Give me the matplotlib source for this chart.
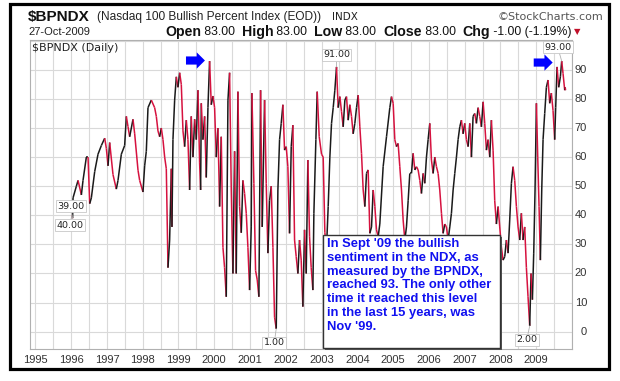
import matplotlib
matplotlib.use("Agg")
import matplotlib.pyplot as plt
import numpy as np
from matplotlib.collections import LineCollection
from matplotlib.patches import Rectangle, FancyArrow
import matplotlib.transforms as mtransforms

# ---------------- data ----------------
years = [
    1996.02, 1996.04, 1996.053, 1996.146, 1996.193, 1996.286, 1996.332, 1996.425, 1996.472, 1996.519,
    1996.565, 1996.658, 1996.751, 1996.845, 1996.938, 1996.984, 1997.031, 1997.077, 1997.170, 1997.263,
    1997.310, 1997.403, 1997.496, 1997.543, 1997.589, 1997.636, 1997.729, 1997.776, 1997.869, 1997.915,
    1998.008, 1998.055, 1998.101, 1998.148, 1998.241, 1998.334, 1998.381, 1998.427, 1998.474, 1998.520,
    1998.567, 1998.614, 1998.660, 1998.707, 1998.753, 1998.800, 1998.818, 1998.846, 1998.893, 1998.940,
    1998.986, 1999.033, 1999.079, 1999.126, 1999.172, 1999.219, 1999.265, 1999.312, 1999.358, 1999.405,
    1999.452, 1999.498, 1999.545, 1999.591, 1999.619, 1999.638, 1999.684, 1999.731, 1999.777, 1999.824,
    1999.870, 1999.917, 1999.964, 2000.010, 2000.057, 2000.103, 2000.150, 2000.196, 2000.243, 2000.289,
    2000.336, 2000.383, 2000.429, 2000.476, 2000.522, 2000.569, 2000.615, 2000.662, 2000.708, 2000.755,
    2000.801, 2000.848, 2000.895, 2000.941, 2000.988, 2001.034, 2001.053, 2001.108, 2001.155, 2001.202,
    2001.248, 2001.295, 2001.341, 2001.407, 2001.453, 2001.500, 2001.546, 2001.593, 2001.640, 2001.686,
    2001.733, 2001.779, 2001.826, 2001.872, 2001.919, 2001.965, 2002.012, 2002.058, 2002.105, 2002.152,
    2002.198, 2002.245, 2002.291, 2002.338, 2002.384, 2002.431, 2002.477, 2002.524, 2002.571, 2002.617,
    2002.664, 2002.710, 2002.757, 2002.785, 2002.841, 2002.878, 2002.934, 2002.999, 2003.045, 2003.092,
    2003.139, 2003.185, 2003.232, 2003.278, 2003.325, 2003.371, 2003.418, 2003.464, 2003.511, 2003.558,
    2003.604, 2003.651, 2003.697, 2003.744, 2003.790, 2003.837, 2003.883, 2003.930, 2003.977, 2004.023,
    2004.070, 2004.116, 2004.163, 2004.209, 2004.256, 2004.302, 2004.349, 2004.396, 2004.442, 2004.489,
    2004.535, 2004.582, 2004.628, 2004.721, 2004.815, 2004.908, 2004.954, 2005.001, 2005.047, 2005.094,
    2005.140, 2005.187, 2005.234, 2005.280, 2005.327, 2005.373, 2005.420, 2005.466, 2005.513, 2005.559,
    2005.606, 2005.653, 2005.699, 2005.746, 2005.792, 2005.839, 2005.885, 2005.932, 2005.978, 2006.025,
    2006.071, 2006.118, 2006.165, 2006.211, 2006.258, 2006.304, 2006.351, 2006.397, 2006.444, 2006.490,
    2006.537, 2006.584, 2006.630, 2006.677, 2006.723, 2006.770, 2006.816, 2006.863, 2006.909, 2006.956,
    2007.002, 2007.049, 2007.096, 2007.142, 2007.189, 2007.235, 2007.282, 2007.328, 2007.375, 2007.421,
    2007.468, 2007.515, 2007.561, 2007.608, 2007.654, 2007.701, 2007.747, 2007.794, 2007.840, 2007.887,
    2007.934, 2007.980, 2008.027, 2008.073, 2008.120, 2008.166, 2008.213, 2008.259, 2008.306, 2008.352,
    2008.399, 2008.446, 2008.492, 2008.539, 2008.585, 2008.632, 2008.678, 2008.725, 2008.771, 2008.818,
    2008.855, 2008.893, 2008.930, 2008.967, 2009.005, 2009.042, 2009.079, 2009.116, 2009.154, 2009.191,
    2009.237, 2009.284, 2009.330, 2009.377, 2009.423, 2009.470, 2009.516, 2009.544, 2009.582, 2009.628,
    2009.675, 2009.712, 2009.749, 2009.796, 2009.810, 2009.820,
]
values = [
    40, 39, 46, 50, 52, 47, 52, 60, 60, 44,
    46, 55, 61, 64, 66.5, 63, 57, 65, 54, 49,
    52, 61, 64, 74, 70.5, 67, 73, 68, 55.5, 52,
    48, 57, 62, 77, 79.6, 77, 74, 69, 67, 70,
    66, 60, 56, 22, 31.5, 56, 36, 66, 79.6, 87.6,
    84, 89, 85, 69, 63.6, 72.7, 66, 48.7, 74, 60,
    73, 66, 83, 58, 48.7, 78.5, 66, 74, 53, 77,
    93, 78, 81, 77, 60, 70, 43, 67, 29, 22,
    12, 79.6, 89, 48.7, 20, 62, 20, 82.5, 43, 34,
    52, 47.5, 40.7, 29, 14.3, 36, 82, 51, 21, 17.8,
    12, 83, 36, 79.6, 51, 27, 45, 50, 29, 5,
    1, 48.7, 66, 71.6, 78, 62.4, 63.6, 56.7, 33.8, 63.6,
    71, 31.5, 25.8, 20, 31.5, 24.6, 8.6, 35, 20, 59,
    32.6, 22, 14.3, 40.7, 66, 82.5, 67, 61, 60, 34,
    29, 43, 60, 71.6, 77, 83, 91, 77, 80.8, 75.6,
    70.4, 79.6, 80.8, 72.7, 78, 74, 68, 71.6, 77, 81.3,
    70.4, 61.3, 48.7, 43, 54.4, 55.6, 33.8, 36, 48.7, 43,
    35, 32.6, 37, 56.7, 67, 77, 80.8, 78.5, 66, 63.6,
    64.7, 56.7, 48.7, 38.4, 31.5, 36, 45, 54.4, 54.4, 61.3,
    55.6, 56.7, 55.6, 52, 47.5, 54.4, 51, 60, 66, 71.6,
    59, 54.4, 60, 56.7, 54.4, 48.7, 40.7, 33.8, 37, 36,
    31.5, 36, 40.7, 48.7, 54.4, 60, 66, 70.4, 72.7, 68,
    71.6, 66, 63.6, 71.6, 60, 74, 75, 71.6, 77, 74,
    70.4, 79, 71.6, 62.4, 66, 60, 72.7, 62.4, 45, 37,
    43, 36, 29, 24.6, 25.8, 31.5, 27, 38.4, 51, 56.7,
    52, 43, 36, 31.5, 40.7, 31.5, 36, 22, 12, 2,
    20, 11, 27, 48.7, 78.5, 60, 43, 24.6, 48.7, 66,
    75, 84, 86.5, 78.5, 82, 76, 66, 77, 91, 84,
    87.6, 93, 88.8, 83, 84, 83,
]
year_labels = list(range(1995, 2010))
value_ticks = list(range(0, 100, 10))
callouts = [  # (year, value, text, dx_px, dy_px)
    (1996.04, 39, "39.00", -2, 12),
    (1996.02, 40, "40.00", -2, -10),
    (2001.733, 1, "1.00", -2, -14),
    (2003.418, 91, "91.00", 0, 12),
    (2008.818, 2, "2.00", -3, -14),
    (2009.712, 93, "93.00", -4, 14),
]
note = ("In Sept '09 the bullish\nsentiment in the NDX, as\nmeasured by the BPNDX,\n"
        "reached 93. The only other\ntime it reached this level\nin the last 15 years, was\nNov '99.")

# ---------------- figure ----------------
W, H = 620, 381
fig = plt.figure(figsize=(6.2, 3.81), dpi=100)
fig.patch.set_facecolor("white")


def fx(px):
    return px / W


def fy(py):
    return 1 - py / H


L, R, T, B = 30, 572, 40, 349
ax = fig.add_axes([fx(L), fy(B), fx(R) - fx(L), fy(T) - fy(B)])
ax.set_xlim(1994.85, 2010.0)
ax.set_ylim(-5.95, 100.25)

ax.set_xticks(np.arange(1995, 2010.01, 0.5))
ax.set_yticks(range(0, 101, 10))
ax.grid(True, color="#d9d9d9", lw=0.8)
ax.set_axisbelow(True)
ax.tick_params(length=0, labelbottom=False, labelleft=False)
for s in ax.spines.values():
    s.set_color("#b0b0b0")
    s.set_linewidth(0.8)

# daily line, black when rising, red when falling
x = np.array(years)
y = np.array(values)
red, black = "#d6123f", "#1a1a1a"
segs, cols = [], []
for i in range(1, len(x)):
    segs.append([(x[i - 1], y[i - 1]), (x[i], y[i])])
    cols.append(black if y[i] >= y[i - 1] else red)
ax.add_collection(LineCollection(segs, colors=cols, linewidths=1.1, zorder=3,
                                 capstyle="butt", joinstyle="miter"))

# axis labels drawn manually
bt = mtransforms.blended_transform_factory(ax.transData, ax.transAxes)
for yr in year_labels:
    ax.text(yr, -(360 - B) / (B - T), str(yr), transform=bt, ha="center", va="center",
            fontsize=8, color="#333333", family="Liberation Sans")
rt = mtransforms.blended_transform_factory(ax.transAxes, ax.transData)
for v in value_ticks:
    ax.text((587 - L) / (R - L), v, str(v), transform=rt, ha="right", va="center",
            fontsize=8, color="#333333", family="Liberation Sans")

ax.text(2 / (R - L), 1 - 8 / (B - T), "$BPNDX (Daily)", transform=ax.transAxes, ha="left",
        va="center", fontsize=8, color="#222222", family="DejaVu Sans", parse_math=False)

# callout labels
for cx, cy, t, dx, dy in callouts:
    ax.annotate(t, xy=(cx, cy), xytext=(dx, dy), textcoords="offset pixels",
                ha="center", va="center", fontsize=6.8, family="DejaVu Sans", color="#222222",
                bbox=dict(boxstyle="square,pad=0.15", fc="white", ec="#c8c8c8", lw=0.6),
                arrowprops=dict(arrowstyle="-", color="#b0b0b0", lw=0.6, shrinkA=0, shrinkB=0),
                zorder=6)

# blue arrows
for x0, yc in [(1999.21, 93.2), (2008.93, 92.5)]:
    ax.add_patch(FancyArrow(x0, yc, 0.53, 0, width=2.8, head_width=5.6, head_length=0.23,
                            length_includes_head=True, fc="#0000ff", ec="#0000ff", lw=0, zorder=7))

# note box
bx0, by0, bx1, by1 = 323, 235, 500, 348
fig.add_artist(Rectangle((fx(bx0 + 2), fy(by1 + 2)), fx(bx1) - fx(bx0), fy(by0) - fy(by1),
                         transform=fig.transFigure, fc="#555555", ec="none", zorder=8))
fig.add_artist(Rectangle((fx(bx0), fy(by1)), fx(bx1) - fx(bx0), fy(by0) - fy(by1),
                         transform=fig.transFigure, fc="white", ec="#333333", lw=1, zorder=9))
fig.text(fx(bx0 + 4), fy(by0 + 3), note, ha="left", va="top", fontsize=9.4, fontweight="bold",
         color="#1010f0", family="Liberation Sans", linespacing=1.2, zorder=10)

# header
fig.text(fx(28), fy(17), "$BPNDX", fontsize=11, fontweight="bold", family="Liberation Sans",
         va="center", ha="left", color="#111111", parse_math=False)
fig.text(fx(97), fy(17), "(Nasdaq 100 Bullish Percent Index (EOD))", fontsize=8.6,
         family="Liberation Sans", va="center", ha="left", color="#222222")
fig.text(fx(332), fy(17), "INDX", fontsize=7.5, family="DejaVu Sans", va="center", ha="left",
         color="#222222")
fig.text(fx(603), fy(17), "\u00a9StockCharts.com", fontsize=8, family="DejaVu Sans", va="center",
         ha="right", color="#555555")
fig.text(fx(28), fy(32), "27-Oct-2009", fontsize=8, family="Liberation Sans", va="center",
         ha="left", color="#222222")

pieces = [("Open", True), (" 83.00  ", False), ("High", True), (" 83.00  ", False),
          ("Low", True), (" 83.00  ", False), ("Close", True), (" 83.00  ", False),
          ("Chg", True), (" -1.00 (-1.19%)", False)]
renderer = fig.canvas.get_renderer()
xpos = 165
for t, b in pieces:
    tx = fig.text(fx(xpos), fy(32), t, fontsize=10.2 if b else 8.8, fontweight="bold" if b else "normal",
                  family="Liberation Sans", va="center", ha="left", color="#111111")
    bb = tx.get_window_extent(renderer=renderer)
    xpos += bb.width
fig.text(fx(xpos + 6), fy(32), "\u25bc", fontsize=6, family="DejaVu Sans", va="center", ha="center",
         color="#c0102a")

# outer frame
fig.add_artist(Rectangle((fx(10), fy(369)), fx(609) - fx(10), fy(4) - fy(369),
                         transform=fig.transFigure, fill=False, ec="black", lw=2.3, zorder=20))

fig.savefig("out.png", dpi=100)
